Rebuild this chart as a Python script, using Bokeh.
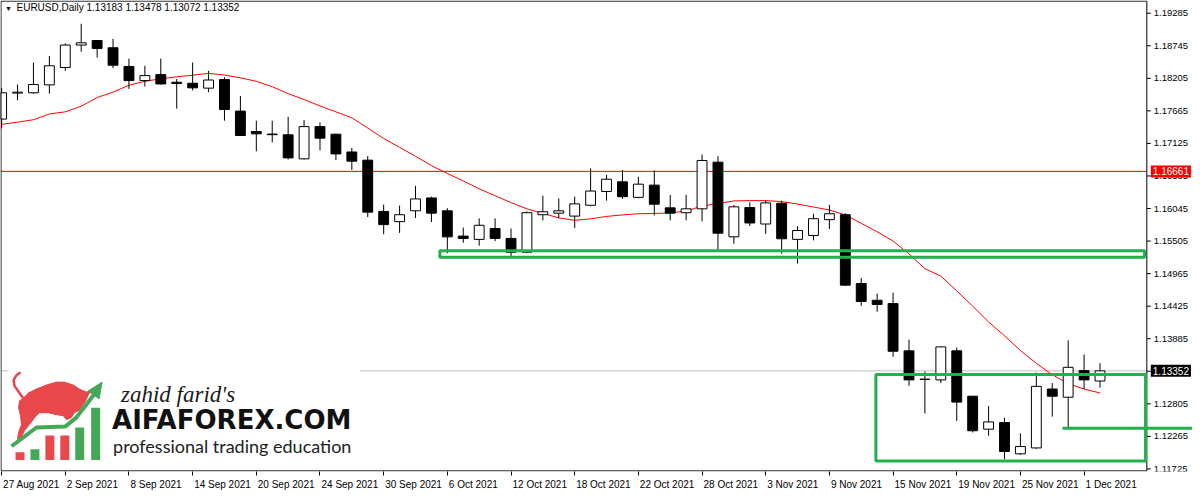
import numpy as np
from bokeh.plotting import figure
from bokeh.models import (ColumnDataSource, FixedTicker, Label, BoxAnnotation, Range1d)
from bokeh.core.properties import value
from bokeh.embed import file_html
from bokeh.resources import INLINE

# ---------------- data ----------------
symbol = "EURUSD,Daily"
last_ohlc = ["1.13183", "1.13478", "1.13072", "1.13352"]

tick_labels = ["27 Aug 2021", "2 Sep 2021", "8 Sep 2021", "14 Sep 2021", "20 Sep 2021",
               "24 Sep 2021", "30 Sep 2021", "6 Oct 2021", "12 Oct 2021", "18 Oct 2021",
               "22 Oct 2021", "28 Oct 2021", "3 Nov 2021", "9 Nov 2021", "15 Nov 2021",
               "19 Nov 2021", "25 Nov 2021", "1 Dec 2021"]
tick_bars = [0, 4, 8, 12, 16, 20, 24, 28, 32, 36, 40, 44, 48, 52, 56, 60, 64, 68]

price_ticks = [1.11725, 1.12265, 1.12805, 1.13345, 1.13885, 1.14425, 1.14965, 1.15505,
               1.16045, 1.16585, 1.17125, 1.17665, 1.18205, 1.18745, 1.19285]
price_tick_labels = ["1.11725", "1.12265", "1.12805", "1.13345", "1.13885", "1.14425", "1.14965",
                     "1.15505", "1.16045", "1.16585", "1.17125", "1.17665", "1.18205", "1.18745",
                     "1.19285"]

opens = [1.17529, 1.17960, 1.17965, 1.18096, 1.18385, 1.18757, 1.18832, 1.18712, 1.18402, 1.18168,
         1.18266, 1.18140, 1.18123, 1.18042, 1.18184, 1.17661, 1.17322, 1.17280, 1.17268, 1.16869,
         1.17404, 1.17278, 1.16983, 1.16847, 1.15996, 1.15827, 1.16007, 1.16220, 1.16007, 1.15587,
         1.15533, 1.15713, 1.15549, 1.15320, 1.15942, 1.15968, 1.15919, 1.16099, 1.16328, 1.16487,
         1.16230, 1.16433, 1.16056, 1.15975, 1.16040, 1.16814, 1.15575, 1.16061, 1.15788, 1.16132,
         1.15533, 1.15598, 1.15860, 1.15942, 1.14801, 1.14523, 1.14469, 1.13684, 1.13214, 1.13202,
         1.13684, 1.12931, 1.12384, 1.12494, 1.11975, 1.12073, 1.13050, 1.12914, 1.13356, 1.13183]
highs = [1.18046, 1.18102, 1.18467, 1.18577, 1.18783, 1.19110, 1.18840, 1.18860, 1.18532, 1.18413,
         1.18532, 1.18194, 1.18467, 1.18330, 1.18222, 1.17911, 1.17502, 1.17502, 1.17567, 1.17513,
         1.17474, 1.17285, 1.17049, 1.16913, 1.16110, 1.16094, 1.16421, 1.16241, 1.16050, 1.15729,
         1.15881, 1.15881, 1.15713, 1.15996, 1.16258, 1.16214, 1.16241, 1.16711, 1.16601, 1.16683,
         1.16569, 1.16678, 1.16269, 1.16269, 1.16940, 1.16913, 1.16105, 1.16148, 1.16176, 1.16176,
         1.15750, 1.15958, 1.16105, 1.15968, 1.14894, 1.14633, 1.14649, 1.13868, 1.13340, 1.13755,
         1.13738, 1.12935, 1.12767, 1.12576, 1.12314, 1.13323, 1.13149, 1.13857, 1.13623, 1.13478]
lows = [1.17376, 1.17840, 1.17950, 1.17950, 1.18330, 1.18647, 1.18549, 1.18374, 1.18030, 1.18069,
        1.18102, 1.17703, 1.18004, 1.17976, 1.17502, 1.17250, 1.16995, 1.17142, 1.16859, 1.16859,
        1.17011, 1.16847, 1.16684, 1.15903, 1.15619, 1.15641, 1.15887, 1.15821, 1.15304, 1.15477,
        1.15428, 1.15505, 1.15248, 1.15304, 1.15849, 1.15887, 1.15723, 1.16083, 1.16176, 1.16204,
        1.16214, 1.15930, 1.15849, 1.15849, 1.15832, 1.15358, 1.15461, 1.15755, 1.15624, 1.15297,
        1.15134, 1.15516, 1.15706, 1.14760, 1.14430, 1.14332, 1.13585, 1.13104, 1.12646, 1.13149,
        1.12522, 1.12330, 1.12276, 1.11884, 1.11959, 1.12057, 1.12592, 1.12412, 1.13050, 1.13072]
closes = [1.17965, 1.17975, 1.18102, 1.18413, 1.18757, 1.18794, 1.18701, 1.18423, 1.18168, 1.18250,
          1.18112, 1.18118, 1.18047, 1.18177, 1.17687, 1.17256, 1.17284, 1.17270, 1.16885, 1.17404,
          1.17212, 1.16951, 1.16830, 1.15985, 1.15778, 1.15942, 1.16204, 1.15968, 1.15575, 1.15549,
          1.15767, 1.15549, 1.15320, 1.15975, 1.15991, 1.16007, 1.16122, 1.16335, 1.16531, 1.16241,
          1.16449, 1.16116, 1.15968, 1.16040, 1.16842, 1.15636, 1.16073, 1.15805, 1.16138, 1.15543,
          1.15680, 1.15876, 1.15958, 1.14774, 1.14502, 1.14453, 1.13677, 1.13202, 1.13210, 1.13749,
          1.12833, 1.12358, 1.12505, 1.12014, 1.12096, 1.13094, 1.12931, 1.13410, 1.13202, 1.13352]
ma_values = [1.17441, 1.17477, 1.17518, 1.17613, 1.17649, 1.17742, 1.17886, 1.17976, 1.18090, 1.18156,
             1.18197, 1.18230, 1.18257, 1.18287, 1.18259, 1.18213, 1.18156, 1.18066, 1.17951, 1.17853,
             1.17747, 1.17649, 1.17550, 1.17379, 1.17207, 1.17060, 1.16912, 1.16757, 1.16626, 1.16503,
             1.16372, 1.16258, 1.16143, 1.16040, 1.15963, 1.15890, 1.15849, 1.15873, 1.15914, 1.15939,
             1.15958, 1.15963, 1.15971, 1.16004, 1.16086, 1.16127, 1.16171, 1.16176, 1.16176, 1.16160,
             1.16119, 1.16070, 1.16020, 1.15939, 1.15800, 1.15660, 1.15505, 1.15292, 1.15047, 1.14924,
             1.14679, 1.14425, 1.14163, 1.13934, 1.13689, 1.13476, 1.13288, 1.13140, 1.13050, 1.12985]

resistance_level = 1.16661
bid_price = 1.13352

# drawn zones: (left bar, right bar, top price, bottom price)
zone_left = [27.53, 54.92]
zone_right = [71.80, 71.86]
zone_top = [1.15345, 1.13291]
zone_bottom = [1.15235, 1.11856]
# drawn horizontal marker
marker_left = 66.64
marker_price = 1.12399

# ---------------- layout constants ----------------
W, H = 1192, 492
XL, XR = -0.07, 74.81          # whole canvas width (chart + price scale)
AX = 71.94                     # price-scale line (right edge of chart area)
YB, YT = 1.11682, 1.19496
PPX = W / (XR - XL)            # pixels per bar
PPY = 473.0 / (YT - YB)        # approx pixels per price unit
X0 = XL + 0.5 / PPX            # left border
Y0 = YB + 0.6 / PPY            # bottom border
Y1 = YT - 0.6 / PPY            # top border

FONT = "Liberation Sans"
GREEN = "#22b14c"

p = figure(width=W, height=H, x_range=Range1d(XL, XR), y_range=Range1d(YB, YT),
           output_backend="svg", toolbar_location=None, y_axis_location=None,
           min_border_left=0, min_border_top=0, min_border_right=0, min_border_bottom=0)
p.outline_line_color = None
p.grid.visible = False
p.background_fill_color = "white"
p.border_fill_color = "white"

# ----- bottom (date) axis: labels start at each tick, as in MT4 -----
CW = {" ": 2.78, ".": 2.78, "A": 6.67, "u": 5.56, "g": 5.56, "S": 6.67, "e": 5.56, "p": 5.56,
      "O": 7.78, "c": 5.0, "t": 2.78, "N": 7.22, "o": 5.56, "v": 5.0, "D": 7.22}

def text_w(s):
    return sum(CW.get(ch, 5.56) for ch in s)

label_pos = [b + (text_w(t) / 2 + 1.5) / PPX for b, t in zip(tick_bars, tick_labels)]
xa = p.xaxis[0]
xa.ticker = FixedTicker(ticks=label_pos, minor_ticks=tick_bars)
xa.major_label_overrides = {lp: t for lp, t in zip(label_pos, tick_labels)}
xa.major_label_text_font = FONT
xa.major_label_text_font_size = "10px"
xa.major_label_text_color = "black"
xa.major_tick_out = 0
xa.major_tick_in = 0
xa.minor_tick_out = 4
xa.minor_tick_in = 0
xa.minor_tick_line_color = "black"
xa.major_label_standoff = 3
xa.axis_line_color = None

# ----- reference lines (under everything) -----
p.segment([X0, X0], [resistance_level, bid_price], [AX, AX], [resistance_level, bid_price],
          line_color=["red", "#c0c0c0"], line_width=1)

idx = np.arange(len(opens))
o = np.array(opens); c = np.array(closes); h = np.array(highs); l = np.array(lows)

# moving average
p.line(idx, ma_values, line_color="red", line_width=1)

# candles
p.segment(idx, h, idx, l, line_color="black", line_width=1)
up = c >= o
src_up = ColumnDataSource(dict(x=idx[up], top=c[up], bottom=o[up]))
src_dn = ColumnDataSource(dict(x=idx[~up], top=o[~up], bottom=c[~up]))
p.vbar(x="x", top="top", bottom="bottom", width=0.62, source=src_up,
       fill_color="white", line_color="black", line_width=1)
p.vbar(x="x", top="top", bottom="bottom", width=0.62, source=src_dn,
       fill_color="black", line_color="black", line_width=1)

# ----- logo (decoration) -----
def px2x(px):
    return (px - 3.0) / 16.0

def py2y(py):
    return 1.19285 - (py - 15.0) * 0.00016364

p.quad(left=[px2x(10)], right=[px2x(363)], top=[py2y(373)], bottom=[YB],
       fill_color="white", line_color=None)
BULL = "#e8474c"
LGREEN = "#43a857"
bull_px = [(24, 406), (30, 400), (38, 396), (48, 392), (58, 389), (66, 389), (75, 392),
           (81, 396), (88, 399), (93, 398), (90, 402), (88, 407), (85, 412), (82, 417),
           (76, 420), (73, 425), (68, 427), (65, 423), (58, 422), (50, 420), (41, 420),
           (36, 425), (31, 432), (26, 438), (23, 445), (19, 447), (20, 440), (23, 432),
           (22, 423), (20, 415), (21, 408)]
p.patch([px2x(a) for a, b in bull_px], [py2y(b) for a, b in bull_px],
        fill_color=BULL, line_color=BULL)
tail_px = [(25, 406), (21, 400), (16, 393), (15, 387), (18, 382), (22, 379)]
p.line([px2x(a) for a, b in tail_px], [py2y(b) for a, b in tail_px],
       line_color=BULL, line_width=2.5)
logo_bar_left = [17, 32, 47, 62, 77, 93]
logo_bar_top = [460, 457, 443, 443, 435, 415]
logo_bar_color = [BULL, LGREEN, BULL, BULL, LGREEN, LGREEN]
p.quad(left=[px2x(v) for v in logo_bar_left], right=[px2x(v + 9) for v in logo_bar_left],
       top=[py2y(v) for v in logo_bar_top], bottom=[py2y(468)] * len(logo_bar_left),
       fill_color=logo_bar_color, line_color=None)
arrow_px = [(13, 454), (38, 435), (67, 434), (78, 425), (88, 412), (97, 400)]
p.line([px2x(a) for a, b in arrow_px], [py2y(b) for a, b in arrow_px],
       line_color=LGREEN, line_width=4)
head_px = [(90, 398), (104, 389), (101, 406)]
p.patch([px2x(a) for a, b in head_px], [py2y(b) for a, b in head_px],
        fill_color=LGREEN, line_color=LGREEN)

p.text(x=[px2x(123)], y=[py2y(414)], text=["zahid farid's"], text_font=value("Liberation Serif"),
       text_font_style="italic", text_font_size="23px", text_color="#1a1a1a")
p.text(x=[px2x(114)], y=[py2y(443)], text=["AIFAFOREX.COM"], text_font=value("DejaVu Sans"),
       text_font_style="bold", text_font_size="26px", text_color="#111111")
p.text(x=[px2x(115)], y=[py2y(465)], text=["professional trading education"],
       text_font=value("Lato"), text_font_size="18px", text_color="#222222")

# ----- chart borders and price scale -----
p.segment([X0, X0, X0, AX], [Y0, Y1, Y0, Y0], [X0, AX, AX, AX], [Y1, Y1, Y0, Y1],
          line_color="black", line_width=1)
tick_len = 4.0 / PPX
p.segment([AX] * len(price_ticks), price_ticks, [AX + tick_len] * len(price_ticks), price_ticks,
          line_color="black", line_width=1)
p.text(x=[AX + 7.0 / PPX] * len(price_ticks), y=price_ticks, text=price_tick_labels,
       text_font=value(FONT), text_font_size="9.5px", text_color="black",
       text_baseline="middle", text_align="left")

# ----- drawn zones -----
for zl, zr, zt, zb in zip(zone_left, zone_right, zone_top, zone_bottom):
    p.add_layout(BoxAnnotation(left=zl, right=zr, top=zt, bottom=zb, fill_alpha=0,
                               line_color=GREEN, line_width=3, line_alpha=1))
half = 1.5 / PPY
p.add_layout(BoxAnnotation(left=marker_left, right=XR, top=marker_price + half,
                           bottom=marker_price - half, fill_color=GREEN, fill_alpha=1,
                           line_alpha=0))

# ----- header -----
p.add_layout(Label(x=X0, y=Y1, x_offset=4, y_offset=-11, text="\u25bc", text_font=FONT,
                   text_font_size="7px", text_color="black"))
p.add_layout(Label(x=X0, y=Y1, x_offset=15.5, y_offset=-11.5, text=symbol, text_font=FONT,
                   text_font_size="10px", text_color="black"))
p.add_layout(Label(x=X0, y=Y1, x_offset=85.5, y_offset=-11.5, text=" ".join(last_ohlc),
                   text_font=FONT, text_font_size="10px", text_color="black"))

# ----- price tags on the scale -----
p.add_layout(Label(x=AX, y=resistance_level, x_offset=4, text=f"{resistance_level:.5f}",
                   text_font=FONT, text_font_size="10px", text_color="white",
                   text_baseline="middle", background_fill_color="red", background_fill_alpha=1,
                   padding=2))
p.add_layout(Label(x=AX, y=bid_price, x_offset=4, text=f"{bid_price:.5f}",
                   text_font=FONT, text_font_size="10px", text_color="white",
                   text_baseline="middle", background_fill_color="black", background_fill_alpha=1,
                   padding=2))

open("out.html", "w").write(file_html(p, INLINE))
